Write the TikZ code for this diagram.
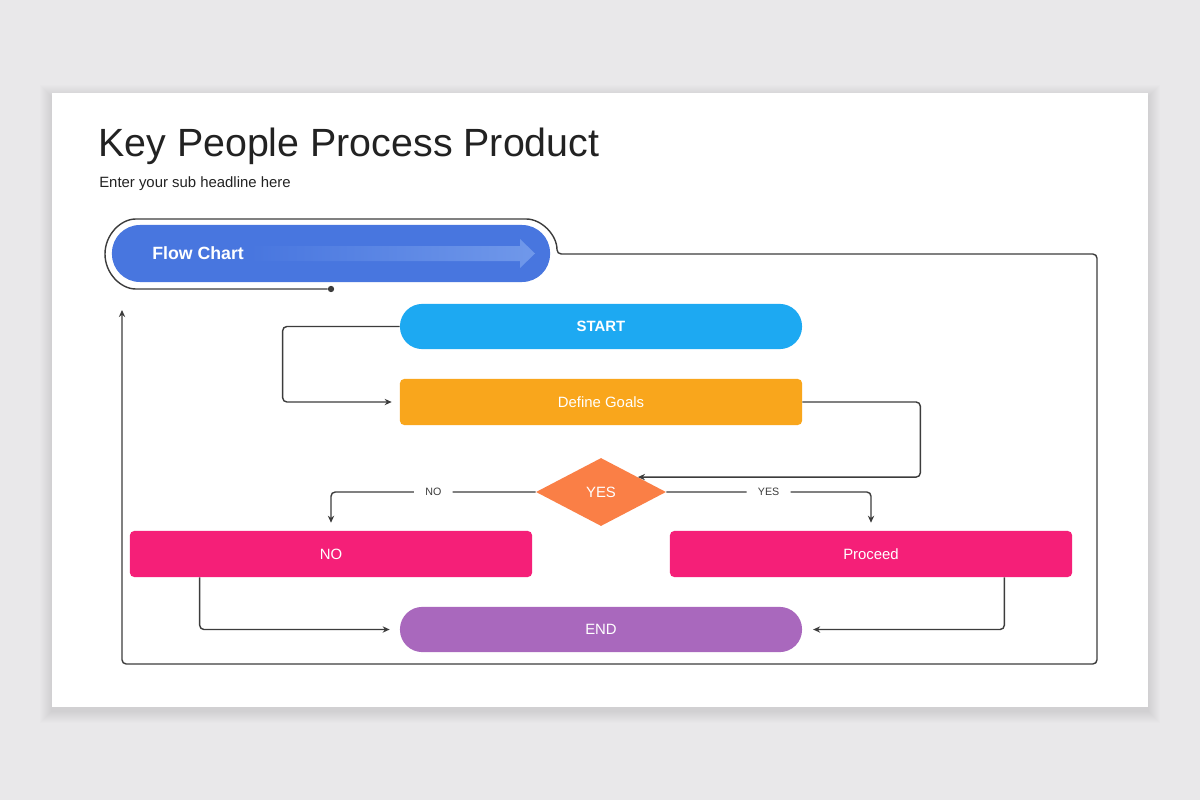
\documentclass[tikz,border=0pt]{standalone}
\usepackage{fontspec}
\setmainfont{Liberation Sans}
\usetikzlibrary{shapes.geometric,arrows.meta}

\definecolor{pagebg}{HTML}{E9E8EA}
\definecolor{titlegray}{HTML}{222222}
\definecolor{fcblue}{HTML}{4876DF}
\definecolor{fclight}{HTML}{7098EA}
\definecolor{startblue}{HTML}{1DA9F2}
\definecolor{goalorange}{HTML}{F9A61C}
\definecolor{diaorange}{HTML}{FA7F46}
\definecolor{boxpink}{HTML}{F51F78}
\definecolor{endpurple}{HTML}{A968BD}
\definecolor{linegray}{HTML}{3C3C3C}

\tikzset{
  pill/.style={rectangle, rounded corners=0.56cm, minimum width=10.05cm, minimum height=1.13cm,
    inner sep=0, text=white, font=\fontsize{10.6}{12}\selectfont},
  box/.style={rectangle, rounded corners=3pt, minimum width=10.05cm, minimum height=1.15cm,
    inner sep=0, text=white, font=\fontsize{10.6}{12}\selectfont},
  flowline/.style={draw=linegray, line width=1pt, rounded corners=3pt},
  lbl/.style={fill=white, text=linegray, font=\fontsize{7.6}{9}\selectfont, inner xsep=8pt, inner ysep=2pt},
}

\begin{document}
\begin{tikzpicture}[x=0.025cm, y=-0.025cm, >={Stealth[length=5pt,width=4.5pt]}]
  % page and slide
  \fill[pagebg] (0,0) rectangle (1200,800);
  \useasboundingbox (0,0) rectangle (1200,800);
  \foreach \s in {1,...,12}
    \fill[black, opacity=0.006] (52-\s,93-\s+4) rectangle (1148+\s,707+\s+4);
  \fill[white] (52,93) rectangle (1148,707);

  \node[anchor=base west, inner sep=0, text=titlegray, font=\fontsize{28}{32}\selectfont] (title) at (98,157) {Key People Process Product};
  \node[anchor=base west, inner sep=0, text=titlegray, font=\fontsize{10.6}{12}\selectfont] (sub) at (99,188) {Enter your sub headline here};

  % flow chart banner
  \node[pill, fill=fcblue, minimum width=10.95cm, minimum height=1.425cm, rounded corners=0.7cm] (fc) at (331,253.5) {};
  \shade[left color=fcblue, right color=fclight] (250,246) -- (520,246) -- (520,239) -- (535,253.5)
    -- (520,268) -- (520,261) -- (250,261) -- cycle;
  \node[anchor=west, inner sep=0, text=white, font=\bfseries\fontsize{12.6}{14}\selectfont] (fctext) at (152,253.5) {Flow Chart};
  \node[circle, fill=linegray, inner sep=0, minimum size=4.5pt] (dot) at (331,289) {};
  \coordinate (back) at (122,310);
  \draw[flowline, ->] (dot) -- (140,289) arc[start angle=90, end angle=270, radius=35]
    -- (522,219) arc[start angle=270, end angle=360, radius=35]
    -- (1097,254) -- (1097,664) -- (122,664) -- (back);

  % steps
  \node[pill, fill=startblue, font=\bfseries\fontsize{10.6}{12}\selectfont] (start) at (601,326.5) {START};
  \node[box, fill=goalorange] (goals) at (601,402) {Define Goals};
  \node[diamond, fill=diaorange, minimum width=3.25cm, minimum height=1.7cm, inner sep=0,
    text=white, font=\fontsize{10.6}{12}\selectfont] (dia) at (601,492) {YES};
  \node[box, fill=boxpink] (no) at (331,554) {NO};
  \node[box, fill=boxpink] (pro) at (871,554) {Proceed};
  \node[pill, fill=endpurple] (endn) at (601,629.5) {END};

  \draw[flowline, ->, shorten >=0.2cm] (start.west) -- ++(-117,0) |- (goals.west);
  \draw[flowline, ->] (goals.east) -- ++(118,0) |- (dia.22);
  \draw[flowline, ->, shorten >=0.2cm] (dia.west) -| node[lbl, pos=0.25] (lblno) {NO} (no.north);
  \draw[flowline, ->, shorten >=0.2cm] (dia.east) -| node[lbl, pos=0.25] (lblyes) {YES} (pro.north);
  \draw[flowline, ->, shorten >=0.25cm] ([xshift=1.75cm]no.south west) |- (endn.west);
  \draw[flowline, ->, shorten >=0.27cm] ([xshift=-1.7cm]pro.south east) |- (endn.east);
\end{tikzpicture}
\end{document}
